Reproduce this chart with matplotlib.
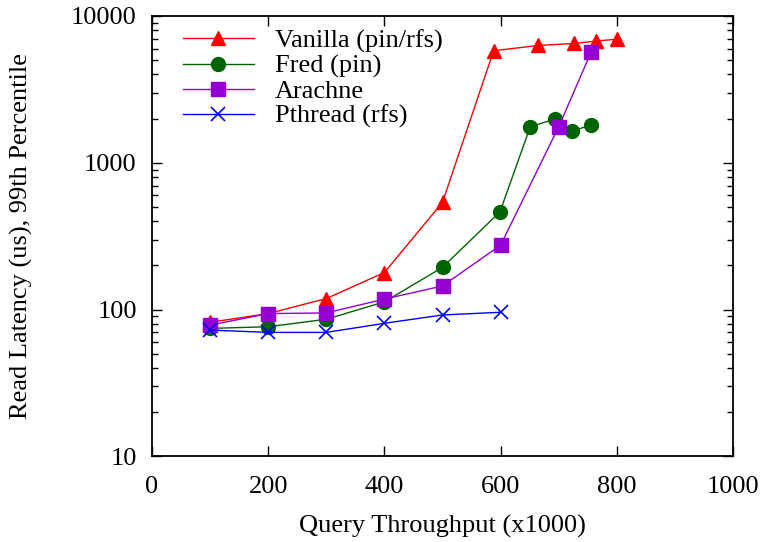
import matplotlib
matplotlib.use('Agg')
import matplotlib.pyplot as plt
from matplotlib.ticker import LogLocator, NullFormatter, FixedLocator

plt.rc('font', family='Liberation Serif', size=19)

# Query throughput (x1000) and 99th percentile read latency (us)
vanilla_x = [100, 200, 300, 400, 500, 588, 665, 726, 764, 800]
vanilla_y = [82, 94, 119, 179, 538, 5800, 6300, 6500, 6750, 6950]

fred_x = [100, 200, 300, 400, 500, 599, 651, 694, 723, 755]
fred_y = [74.5, 76.5, 86, 113, 194, 464, 1760, 1990, 1650, 1800]

arachne_x = [100, 200, 300, 400, 500, 600, 700, 756]
arachne_y = [78.5, 94, 95, 118, 145, 275, 1760, 5700]

pthread_x = [100, 200, 300, 400, 500, 600]
pthread_y = [72.6, 70, 70, 80.7, 92, 96]

series = [
    ('Vanilla (pin/rfs)', vanilla_x, vanilla_y, '^', '#ff0000'),
    ('Fred (pin)', fred_x, fred_y, 'o', '#006400'),
    ('Arachne', arachne_x, arachne_y, 's', '#9400d3'),
    ('Pthread (rfs)', pthread_x, pthread_y, 'x', '#0000ff'),
]


def do_plot():
    fig = plt.figure(figsize=(7.63, 5.42), dpi=100)
    ax = fig.add_axes([0.1992, 0.1578, 0.7615, 0.8127])
    for name, xs, ys, marker, color in series:
        ax.plot(xs, ys, '-', marker=marker, color=color, label=name,
                markersize=10, linewidth=1, markeredgewidth=1.2 if marker == 'x' else 1)

    ax.set_yscale('log')
    ax.set_xlim(0, 1000)
    ax.set_ylim(10, 10000)
    ax.xaxis.set_major_locator(FixedLocator([0, 200, 400, 600, 800, 1000]))
    ax.yaxis.set_major_locator(FixedLocator([10, 100, 1000, 10000]))
    ax.yaxis.set_major_formatter(matplotlib.ticker.FuncFormatter(lambda v, p: '%d' % v))
    ax.yaxis.set_minor_locator(LogLocator(base=10, subs=range(2, 10)))
    ax.yaxis.set_minor_formatter(NullFormatter())
    ax.tick_params(which='both', direction='in', top=True, right=True, width=1)
    ax.tick_params(which='major', length=7)
    ax.tick_params(axis='x', which='major', pad=14)
    ax.tick_params(axis='y', which='major', pad=11)
    ax.tick_params(which='minor', length=4)
    for s in ax.spines.values():
        s.set_linewidth(1.3)

    ax.set_xlabel('Query Throughput (x1000)', labelpad=12)
    ax.set_ylabel('Read Latency (us), 99th Percentile', labelpad=27)
    ax.legend(loc='upper left', frameon=False, handlelength=2.7, handletextpad=0.8,
              labelspacing=0.05, borderaxespad=0.1, bbox_to_anchor=(0.03, 1.0))
    fig.savefig('out.png', dpi=100)


if __name__ == '__main__':
    do_plot()
